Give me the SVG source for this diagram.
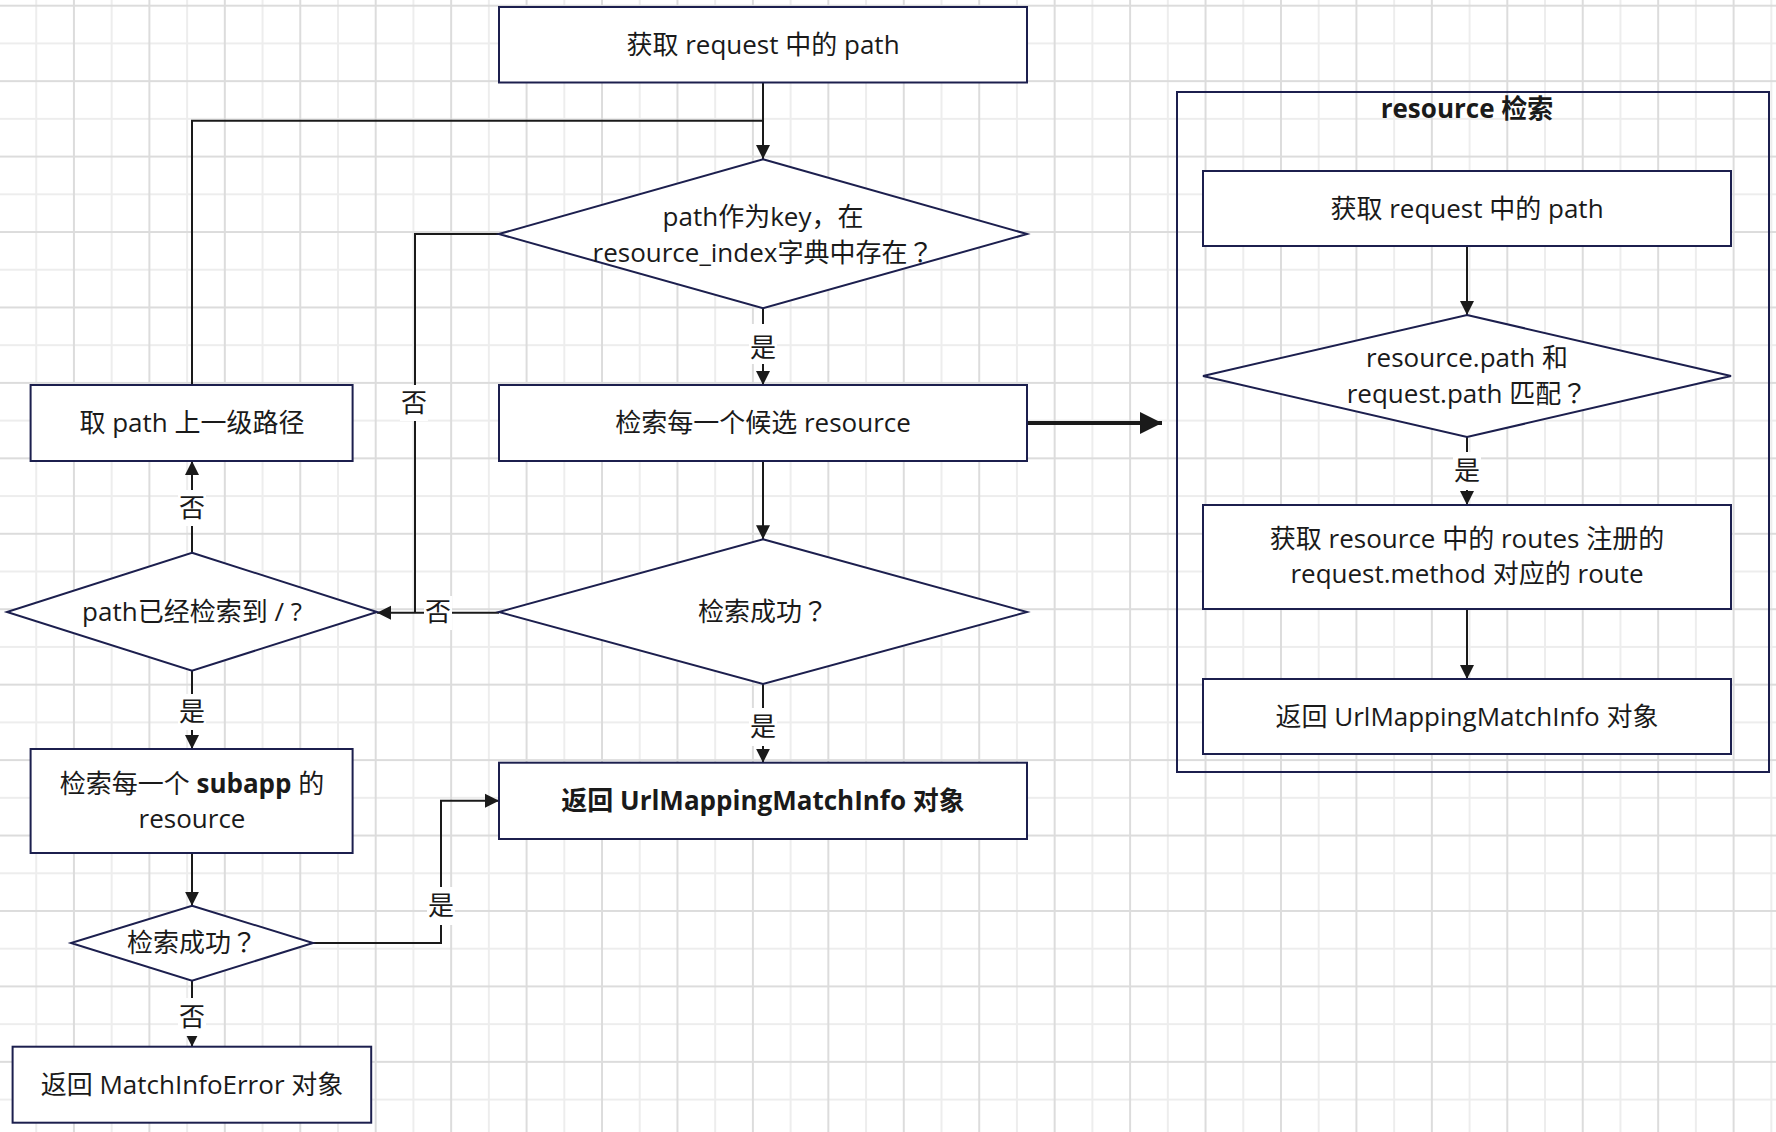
<svg xmlns="http://www.w3.org/2000/svg" width="1776" height="1132" viewBox="0 0 1776 1132">
<defs>
<pattern id="grid" patternUnits="userSpaceOnUse" x="-1.5" y="5.7" width="75.44" height="75.44">
<line x1="37.72" y1="0" x2="37.72" y2="75.44" stroke="#ededed" stroke-width="2"/>
<line x1="0" y1="37.72" x2="75.44" y2="37.72" stroke="#ededed" stroke-width="2"/>
<line x1="75.44" y1="0" x2="75.44" y2="75.44" stroke="#dcdcdc" stroke-width="2"/>
<line x1="0" y1="0" x2="75.44" y2="0" stroke="#dcdcdc" stroke-width="2"/>
<line x1="0" y1="75.44" x2="75.44" y2="75.44" stroke="#dcdcdc" stroke-width="2"/>
<line x1="0" y1="0" x2="0" y2="75.44" stroke="#dcdcdc" stroke-width="2"/>
</pattern>
<marker id="arr" markerUnits="userSpaceOnUse" viewBox="0 0 10 10" refX="10" refY="5" markerWidth="14" markerHeight="16" orient="auto">
<path d="M0,0 L10,5 L0,10 z" fill="#1a1a1a"/>
</marker>
<marker id="arrBig" markerUnits="userSpaceOnUse" viewBox="0 0 10 10" refX="10" refY="5" markerWidth="22" markerHeight="22" orient="auto">
<path d="M0,0 L10,5 L0,10 z" fill="#1a1a1a"/>
</marker>
</defs>
<style>
.node{fill:#ffffff;stroke:#1c1f4e;stroke-width:2}
.t{font-family:"Open Sans","Noto Sans CJK SC",sans-serif;font-size:26px;fill:#1a1a1a;text-anchor:middle}
.b{font-weight:bold}
.q{font-family:"Noto Sans CJK TC",sans-serif}
.c{fill:none;stroke:#1a1a1a;stroke-width:2}
.lb{fill:#ffffff}
</style>
<rect x="0" y="0" width="1776" height="1132" fill="#ffffff"/>
<rect x="0" y="0" width="1776" height="1132" fill="url(#grid)"/>

<g id="connectors">
<path class="c" d="M763,82.5 V159" marker-end="url(#arr)"/>
<path class="c" d="M192,385 V120.7 H763"/>
<path class="c" d="M763,308.3 V385" marker-end="url(#arr)"/>
<path class="c" d="M499,234 H415 V612.7"/>
<path class="c" d="M763,461 V539.3" marker-end="url(#arr)"/>
<path d="M1027,423 H1162" fill="none" stroke="#1a1a1a" stroke-width="4" marker-end="url(#arrBig)"/>
<path class="c" d="M499,612.7 H377" marker-end="url(#arr)"/>
<path class="c" d="M763,684 V762.7" marker-end="url(#arr)"/>
<path class="c" d="M192,552.7 V461" marker-end="url(#arr)"/>
<path class="c" d="M192,670.7 V749" marker-end="url(#arr)"/>
<path class="c" d="M192,853 V905.7" marker-end="url(#arr)"/>
<path class="c" d="M313,943 H441 V800.7 H499" marker-end="url(#arr)"/>
<path class="c" d="M192,980.7 V1046.7" marker-end="url(#arr)"/>
<path class="c" d="M1467,246 V315" marker-end="url(#arr)"/>
<path class="c" d="M1467,437 V505" marker-end="url(#arr)"/>
<path class="c" d="M1467,609 V679" marker-end="url(#arr)"/>
<g id="labels">
<rect class="lb" x="749" y="324" width="28" height="40"/><text class="t" x="763" y="357">是</text>
<rect class="lb" x="400" y="385" width="28" height="36"/><text class="t" x="414" y="412">否</text>
<rect class="lb" x="178" y="490" width="28" height="36"/><text class="t" x="192" y="517">否</text>
<rect class="lb" x="424" y="596" width="28" height="34"/><text class="t" x="438" y="621">否</text>
<rect class="lb" x="178" y="694" width="28" height="36"/><text class="t" x="192" y="721">是</text>
<rect class="lb" x="749" y="708" width="28" height="38"/><text class="t" x="763" y="736">是</text>
<rect class="lb" x="427" y="887" width="28" height="38"/><text class="t" x="441" y="915">是</text>
<rect class="lb" x="178" y="998" width="28" height="38"/><text class="t" x="192" y="1026">否</text>
<rect class="lb" x="1453" y="452" width="28" height="38"/><text class="t" x="1467" y="480">是</text>
</g>
</g>

<g id="A"><rect class="node" x="499" y="7" width="528" height="75.5"/><text class="t" x="763" y="54">获取 request 中的 path</text></g>
<g id="D1"><polygon class="node" points="763,159.3 1027,234 763,308.3 499,234"/>
<text class="t" x="763" y="226">path作为key，在</text><text class="t" x="763" y="262">resource_index字典中存在<tspan class="q">？</tspan></text></g>
<g id="B"><rect class="node" x="499" y="385" width="528" height="76"/><text class="t" x="763" y="432">检索每一个候选 resource</text></g>
<g id="C"><rect class="node" x="30.6" y="385" width="322" height="76"/><text class="t" x="192" y="432">取 path 上一级路径</text></g>
<g id="D3"><polygon class="node" points="763,539.3 1027,612 763,684 499,612"/><text class="t" x="763" y="621">检索成功<tspan class="q">？</tspan></text></g>
<g id="D2"><polygon class="node" points="192,552.7 377,612 192,670.7 7,612"/><text class="t" x="192" y="621">path已经检索到 / ?</text></g>
<g id="E"><rect class="node" x="499" y="762.7" width="528" height="76.3"/><text class="t b" x="763" y="810">返回 UrlMappingMatchInfo 对象</text></g>
<g id="F"><rect class="node" x="30.6" y="749" width="322" height="104"/>
<text class="t" x="192" y="793">检索每一个 <tspan class="b">subapp</tspan> 的</text><text class="t" x="192" y="828">resource</text></g>
<g id="D4"><polygon class="node" points="192,905.7 313,943 192,980.7 71,943"/><text class="t" x="192" y="952">检索成功<tspan class="q">？</tspan></text></g>
<g id="G"><rect class="node" x="12.6" y="1046.7" width="358.6" height="76"/><text class="t" x="192" y="1094">返回 MatchInfoError 对象</text></g>

<g id="panel"><rect x="1177" y="92" width="592" height="680" fill="none" stroke="#1c1f4e" stroke-width="2"/>
<text class="t b" x="1467" y="118">resource 检索</text></g>
<g id="R1"><rect class="node" x="1203" y="171" width="528" height="75"/><text class="t" x="1467" y="218">获取 request 中的 path</text></g>
<g id="R2"><polygon class="node" points="1467,315 1731,376 1467,437 1203,376"/>
<text class="t" x="1467" y="367">resource.path 和</text><text class="t" x="1467" y="403">request.path 匹配<tspan class="q">？</tspan></text></g>
<g id="R3"><rect class="node" x="1203" y="505" width="528" height="104"/>
<text class="t" x="1467" y="548">获取 resource 中的 routes 注册的</text><text class="t" x="1467" y="583">request.method 对应的 route</text></g>
<g id="R4"><rect class="node" x="1203" y="679" width="528" height="75"/><text class="t" x="1467" y="726">返回 UrlMappingMatchInfo 对象</text></g>
</svg>
